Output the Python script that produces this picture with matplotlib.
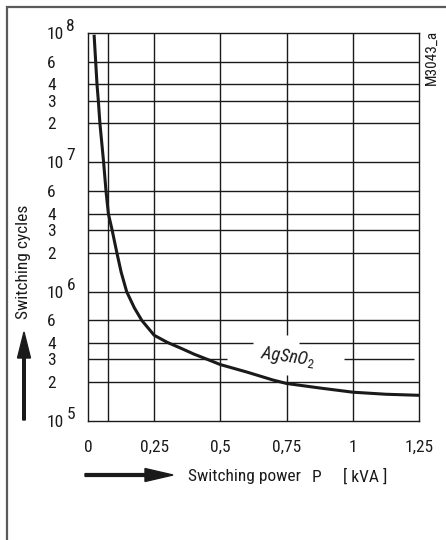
import numpy as np
import matplotlib
matplotlib.use('Agg')
import matplotlib.pyplot as plt
from matplotlib import font_manager
from matplotlib.patches import Rectangle, FancyArrow

# curve: switching power P [kVA] -> switching cycles
power = [0.023, 0.029, 0.034, 0.039, 0.045, 0.059, 0.068, 0.077, 0.091,
         0.109, 0.125, 0.146, 0.175, 0.203, 0.25, 0.30, 0.35, 0.40, 0.45,
         0.50, 0.60, 0.70, 0.75, 0.875, 1.0, 1.125, 1.25]
cycles = [9.7e7, 6e7, 4e7, 3e7, 2e7, 1e7, 6e6, 4e6, 3e6,
          2e6, 1.42e6, 1e6, 7.5e5, 6e5, 4.6e5, 4.05e5, 3.66e5, 3.29e5, 3.0e5,
          2.73e5, 2.39e5, 2.07e5, 1.95e5, 1.8e5, 1.67e5, 1.61e5, 1.58e5]

x_ticks = [0, 0.25, 0.5, 0.75, 1.0, 1.25]
x_ticklabels = ['0', '0,25', '0,5', '0,75', '1', '1,25']
x_grid = [0.075, 0.25, 0.5, 0.75, 1.0]
decades = [5, 6, 7, 8]
minor_steps = [2, 3, 4, 6]

# a condensed sans face, like the original drawing
names = {f.name for f in font_manager.fontManager.ttflist}
font = 'Liberation Sans'
for cand in ['Roboto Condensed', 'Archivo Narrow', 'Liberation Sans Narrow']:
    if cand in names:
        font = cand
        break
plt.rcParams['font.family'] = [font, 'DejaVu Sans']
plt.rcParams['mathtext.fontset'] = 'custom'
plt.rcParams['mathtext.rm'] = font
plt.rcParams['mathtext.it'] = font + ':italic'

W, H = 446, 540
fig = plt.figure(figsize=(W / 100, H / 100), dpi=100)
ax = fig.add_axes([88 / W, 1 - 421 / H, (419 - 88) / W, (421 - 33) / H])

ink = '#1a1a1a'
ax.set_yscale('log')
ax.set_xlim(0, 1.25)
ax.set_ylim(1e5, 1e8)

# grid
y_grid = []
for d in decades[:-1]:
    for m in minor_steps:
        y_grid.append(m * 10 ** d)
    if d > decades[0]:
        y_grid.append(10 ** d)
for y in y_grid:
    ax.axhline(y, color=ink, lw=1.0, zorder=1)
for x in x_grid:
    ax.axvline(x, color=ink, lw=1.0, zorder=1)

# gaps in the grid around the label
ax.hlines(4e5, 0.623, 0.797, color='white', lw=2.5, zorder=1.5)
ax.hlines(3e5, 0.525, 0.967, color='white', lw=2.5, zorder=1.5)
ax.hlines(3e5, 1.231, 1.249, color='white', lw=2.5, zorder=1.5)
ax.vlines(0.75, 2.27e5, 4.61e5, color='white', lw=2.5, zorder=1.5)

ax.plot(power, cycles, color=ink, lw=2.2, zorder=3, solid_capstyle='butt')

ax.text(0.755, 3.1e5, r'$AgSnO_{2}$', fontsize=13, color=ink,
        rotation=-8, rotation_mode='anchor', ha='center', va='center', zorder=4)

for s in ax.spines.values():
    s.set_color(ink)
    s.set_linewidth(1.0)

ax.set_xticks(x_ticks)
ax.set_xticklabels(x_ticklabels)
y_ticks = []
y_labels = []
for d in decades:
    y_ticks.append(10 ** d)
    y_labels.append('10')
    if d < decades[-1]:
        for m in minor_steps:
            y_ticks.append(m * 10 ** d)
            y_labels.append(str(m))
ax.set_yticks(y_ticks)
ax.set_yticklabels(y_labels)
ax.minorticks_off()
ax.tick_params(axis='x', length=0, pad=13.5, labelsize=12.5, labelcolor=ink)
ax.tick_params(axis='y', length=0, pad=29.5, labelsize=12.5, labelcolor=ink)
for lab in ax.get_yticklabels():
    lab.set_horizontalalignment('left')

# exponents of the decade labels
for d in decades:
    ax.annotate(str(d), xy=(0, 10 ** d), xycoords=('axes fraction', 'data'),
                xytext=(-15.5, 1.5), textcoords='offset points',
                fontsize=12.5, color=ink, ha='left', va='baseline')

# axis titles with arrows
fig.text(24 / W, 1 - 262 / H, 'Switching cycles', rotation=90, fontsize=12.5,
         color=ink, ha='center', va='center')
fig.text(188 / W, 1 - 477 / H, 'Switching power', fontsize=12.5, color=ink,
         ha='left', va='center')
fig.text(312 / W, 1 - 477 / H, 'P', fontsize=12.5, color=ink, ha='left', va='center')
fig.text(343 / W, 1 - 477 / H, '[ kVA ]', fontsize=12.5, color=ink, ha='left', va='center')
fig.text(432 / W, 1 - 30 / H, 'M3043_a', rotation=90, fontsize=11, color=ink,
         ha='center', va='top')

fig.patches.append(FancyArrow(24 / 100, (H - 420) / 100, 0, (420 - 332) / 100,
                              width=0.026, head_width=0.13, head_length=0.26,
                              length_includes_head=True, color=ink,
                              transform=fig.dpi_scale_trans, figure=fig))
fig.patches.append(FancyArrow(85 / 100, (H - 475) / 100, (173 - 85) / 100, 0,
                              width=0.028, head_width=0.13, head_length=0.28,
                              length_includes_head=True, color=ink,
                              transform=fig.dpi_scale_trans, figure=fig))

# frame around the whole picture
fig.patches.append(Rectangle((7 / W, -0.1), 1.2, 1 - 7 / H + 0.1, fill=False,
                             edgecolor='#5a5a5a', lw=1.6,
                             transform=fig.transFigure, figure=fig))

fig.savefig('out.png', dpi=100)
